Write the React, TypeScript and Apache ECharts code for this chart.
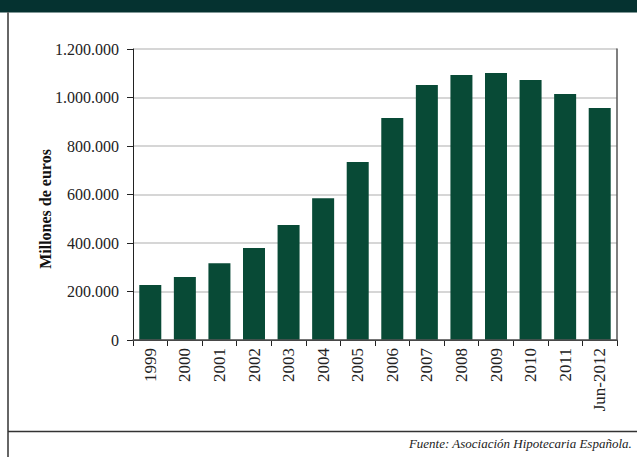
import React, { useEffect, useRef } from "react";
import * as echarts from "echarts";

const categories = ["1999", "2000", "2001", "2002", "2003", "2004", "2005", "2006", "2007", "2008", "2009", "2010", "2011", "Jun-2012"];
const values = [227000, 260000, 317000, 379000, 474000, 585000, 734000, 915000, 1052000, 1093000, 1101000, 1072000, 1014000, 957000];
const yTitle = "Millones de euros";
const sourceText = "Fuente: Asociación Hipotecaria Española.";

const fmt = (v: number) => String(Math.round(v)).replace(/\B(?=(\d{3})+(?!\d))/g, ".");

export default function App() {
  const ref = useRef<HTMLDivElement>(null);
  useEffect(() => {
    document.body.style.margin = "0";
    const chart = echarts.init(ref.current!, null, { renderer: "svg" });
    const serif = "'Liberation Serif', 'Times New Roman', serif";
    chart.setOption({
      animation: false,
      backgroundColor: "#ffffff",
      grid: { left: 133, right: 20, top: 49, bottom: 117, containLabel: false },
      xAxis: [
        {
          type: "category",
          data: categories,
          boundaryGap: true,
          axisLine: { show: true, lineStyle: { color: "#222", width: 1 } },
          axisTick: { show: true, interval: 0, length: 6, lineStyle: { color: "#222" } },
          axisLabel: { interval: 0, rotate: 90, fontFamily: serif, fontSize: 17, color: "#222", margin: 8 },
          splitLine: { show: false },
        },
        {
          type: "category",
          data: categories,
          position: "top",
          z: 5,
          axisLine: { show: true, lineStyle: { color: "#555", width: 1.5 } },
          axisTick: { show: false },
          axisLabel: { show: false },
          splitLine: { show: false },
        },
      ],
      yAxis: [
        {
          type: "value",
          min: 0,
          max: 1200000,
          interval: 200000,
          axisLine: { show: true, lineStyle: { color: "#222", width: 1 } },
          axisTick: { show: true, length: 6, lineStyle: { color: "#222" } },
          axisLabel: { fontFamily: serif, fontSize: 16, color: "#222", margin: 14, formatter: (v: number) => fmt(v) },
          splitLine: { show: true, lineStyle: { color: "#c8c8c8", width: 1.5 } },
        },
        {
          type: "value",
          min: 0,
          max: 1200000,
          interval: 200000,
          position: "right",
          z: 5,
          axisLine: { show: true, lineStyle: { color: "#555", width: 1.5 } },
          axisTick: { show: false },
          axisLabel: { show: false },
          splitLine: { show: false },
        },
      ],
      series: [
        {
          type: "bar",
          data: values,
          barWidth: 22,
          itemStyle: { color: "#084a36" },
          xAxisIndex: 0,
          yAxisIndex: 0,
        },
      ],
      graphic: [
        { type: "rect", left: 0, top: 0, shape: { width: 637, height: 12.5 }, style: { fill: "#053230" } },
        { type: "line", shape: { x1: 8, y1: 12, x2: 8, y2: 457 }, style: { stroke: "#666", lineWidth: 2 } },
        { type: "line", shape: { x1: 8, y1: 431.5, x2: 637, y2: 431.5 }, style: { stroke: "#333", lineWidth: 1.5 } },
        {
          type: "text",
          x: 45,
          y: 209,
          rotation: Math.PI / 2,
          style: {
            text: yTitle,
            font: "bold 16px 'Liberation Serif'",
            fill: "#111",
            align: "center",
            verticalAlign: "middle",
          },
        },
        {
          type: "text",
          right: 5,
          top: 437,
          style: { text: sourceText, font: "italic 13px 'Liberation Serif'", fill: "#222" },
        },
      ],
    });
    return () => chart.dispose();
  }, []);
  return <div ref={ref} style={{ width: 637, height: 457 }} />;
}
